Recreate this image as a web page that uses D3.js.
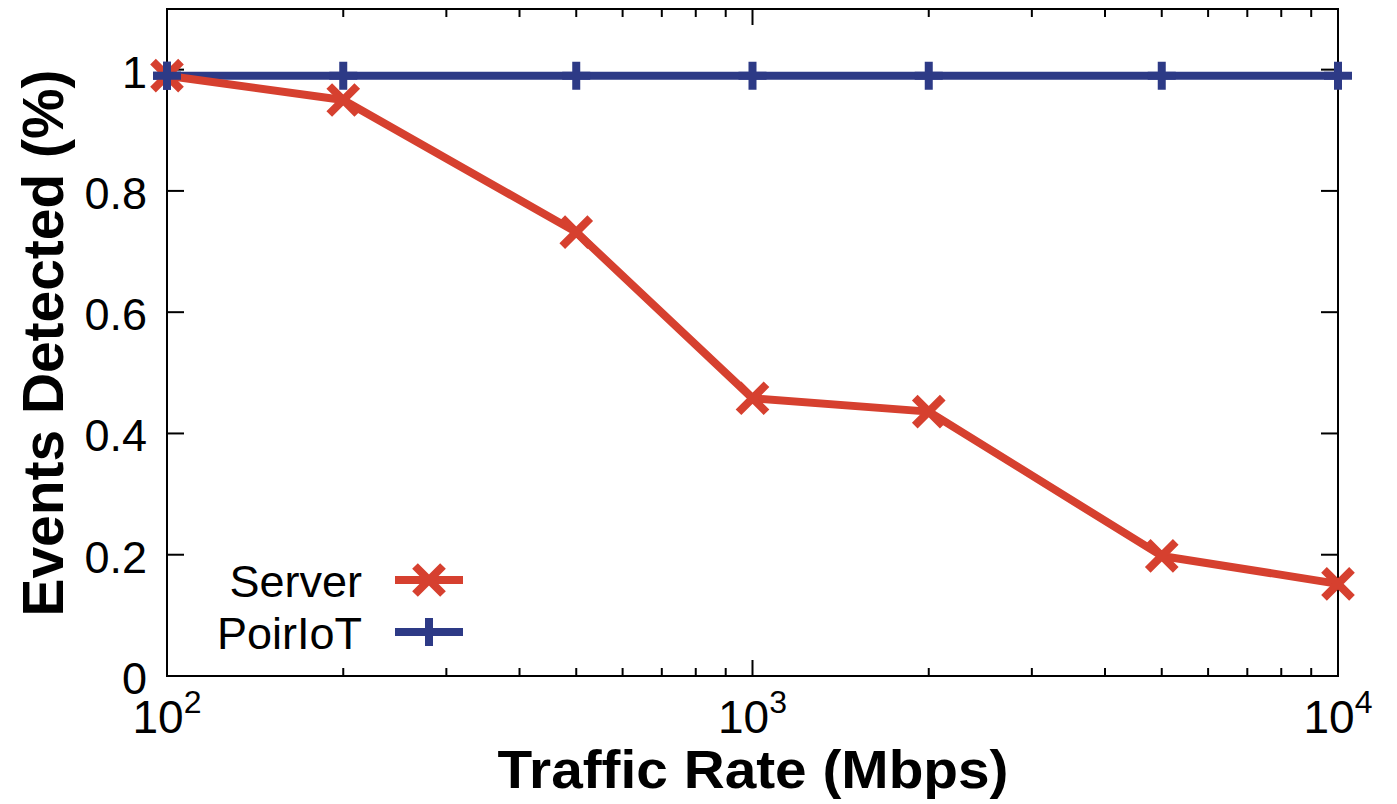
<!DOCTYPE html>
<html>
<head>
<meta charset="utf-8">
<script src="https://cdn.jsdelivr.net/npm/d3@7"></script>
<style>
  html, body { margin: 0; padding: 0; background: #fff; }
  svg { display: block; font-family: "Liberation Sans", Arial, sans-serif; }
</style>
</head>
<body>
<svg id="chart" width="1397" height="804"></svg>
<script>
// data
const rates = [100, 200, 500, 1000, 2000, 5000, 10000];
const serverVals = [0.99, 0.95, 0.732, 0.458, 0.436, 0.198, 0.152];
const poiriotVals = [0.99, 0.99, 0.99, 0.99, 0.99, 0.99, 0.99];
const yTicks = [0, 0.2, 0.4, 0.6, 0.8, 1];
const xMajor = [100, 1000, 10000];
const seriesNames = ['Server', 'PoirIoT'];

const red = '#d6402f';
const blue = '#2d3a86';

const margin = { top: 9, right: 59, bottom: 128, left: 167 };
const width = 1397, height = 804;
const svg = d3.select('#chart');

const x = d3.scaleLog()
  .domain([100, 10000])
  .range([margin.left, width - margin.right]);
const y = d3.scaleLinear()
  .domain([0, 1.1])
  .range([height - margin.bottom, margin.top]);

const x0 = margin.left, x1 = width - margin.right;
const y0 = height - margin.bottom, y1 = margin.top;

// minor ticks 2..9 per decade
const minor = [];
[100, 1000].forEach(d => { for (let k = 2; k <= 9; k++) minor.push(d * k); });

const g = svg.append('g');

// x ticks bottom + top (inward)
const tickLines = g.append('g').attr('stroke', '#000').attr('stroke-width', 2);
xMajor.concat(minor).forEach(v => {
  const len = xMajor.includes(v) ? 16 : 8;
  tickLines.append('line').attr('x1', x(v)).attr('x2', x(v)).attr('y1', y0).attr('y2', y0 - len);
  tickLines.append('line').attr('x1', x(v)).attr('x2', x(v)).attr('y1', y1).attr('y2', y1 + len);
});
yTicks.forEach(v => {
  tickLines.append('line').attr('x1', x0).attr('x2', x0 + 17).attr('y1', y(v)).attr('y2', y(v));
  tickLines.append('line').attr('x1', x1).attr('x2', x1 - 17).attr('y1', y(v)).attr('y2', y(v));
});

// y tick labels
g.append('g').selectAll('text')
  .data(yTicks)
  .join('text')
  .attr('x', x0 - 20)
  .attr('y', d => y(d))
  .attr('dy', '0.4em')
  .attr('text-anchor', 'end')
  .attr('font-size', 45)
  .text(d => d === 0 || d === 1 ? String(d) : d.toFixed(1));

// x tick labels 10^k
const xl = g.append('g').selectAll('text')
  .data(xMajor)
  .join('text')
  .attr('x', d => x(d))
  .attr('y', y0 + 57)
  .attr('text-anchor', 'middle')
  .attr('font-size', 46);
xl.append('tspan').text('10');
xl.append('tspan').attr('dy', -20).attr('font-size', 32).text(d => Math.round(Math.log10(d)));

// frame
g.append('rect')
  .attr('x', x0).attr('y', y1)
  .attr('width', x1 - x0).attr('height', y0 - y1)
  .attr('fill', 'none').attr('stroke', '#000').attr('stroke-width', 2);

// axis titles
svg.append('text')
  .attr('x', 753)
  .attr('y', 788)
  .attr('text-anchor', 'middle')
  .attr('font-size', 53)
  .attr('font-weight', 'bold')
  .attr('textLength', 511)
  .attr('lengthAdjust', 'spacingAndGlyphs')
  .text('Traffic Rate (Mbps)');

svg.append('text')
  .attr('transform', `translate(63, 343) rotate(-90)`)
  .attr('text-anchor', 'middle')
  .attr('font-size', 57)
  .attr('font-weight', 'bold')
  .attr('textLength', 547)
  .attr('lengthAdjust', 'spacingAndGlyphs')
  .text('Events Detected (%)');

const line = d3.line()
  .x(d => x(d[0]))
  .y(d => y(d[1]));

const serverData = rates.map((r, i) => [r, serverVals[i]]);
const poiriotData = rates.map((r, i) => [r, poiriotVals[i]]);

function crossPath(s) {
  return `M${-s},${-s}L${s},${s}M${-s},${s}L${s},${-s}`;
}
function plusPath(s) {
  return `M${-s},0L${s},0M0,${-s}L0,${s}`;
}

// PoirIoT
g.append('path').datum(poiriotData)
  .attr('fill', 'none').attr('stroke', blue).attr('stroke-width', 8)
  .attr('d', line);
g.append('g').selectAll('path')
  .data(poiriotData)
  .join('path')
  .attr('transform', d => `translate(${x(d[0])},${y(d[1])})`)
  .attr('d', plusPath(14))
  .attr('stroke', blue).attr('stroke-width', 8).attr('fill', 'none');

// Server
g.append('path').datum(serverData)
  .attr('fill', 'none').attr('stroke', red).attr('stroke-width', 8)
  .attr('stroke-linejoin', 'round')
  .attr('d', line);
g.append('g').selectAll('path')
  .data(serverData)
  .join('path')
  .attr('transform', d => `translate(${x(d[0])},${y(d[1])})`)
  .attr('d', crossPath(14))
  .attr('stroke', red).attr('stroke-width', 8).attr('fill', 'none');

// blue plus sits above the red cross at the first point
g.append('path')
  .attr('transform', `translate(${x(poiriotData[0][0])},${y(poiriotData[0][1])})`)
  .attr('d', plusPath(14))
  .attr('stroke', blue).attr('stroke-width', 8).attr('fill', 'none');

// legend
const legend = svg.append('g');
const legendRows = [
  { name: seriesNames[0], color: red, marker: crossPath(14), y: 580 },
  { name: seriesNames[1], color: blue, marker: plusPath(14), y: 632 }
];
legendRows.forEach(r => {
  legend.append('text')
    .attr('x', 362).attr('y', r.y).attr('dy', '0.37em')
    .attr('text-anchor', 'end').attr('font-size', 45)
    .text(r.name);
  legend.append('line')
    .attr('x1', 395).attr('x2', 463).attr('y1', r.y).attr('y2', r.y)
    .attr('stroke', r.color).attr('stroke-width', 8);
  legend.append('path')
    .attr('transform', `translate(429,${r.y})`)
    .attr('d', r.marker)
    .attr('stroke', r.color).attr('stroke-width', 8).attr('fill', 'none');
});
</script>
</body>
</html>
